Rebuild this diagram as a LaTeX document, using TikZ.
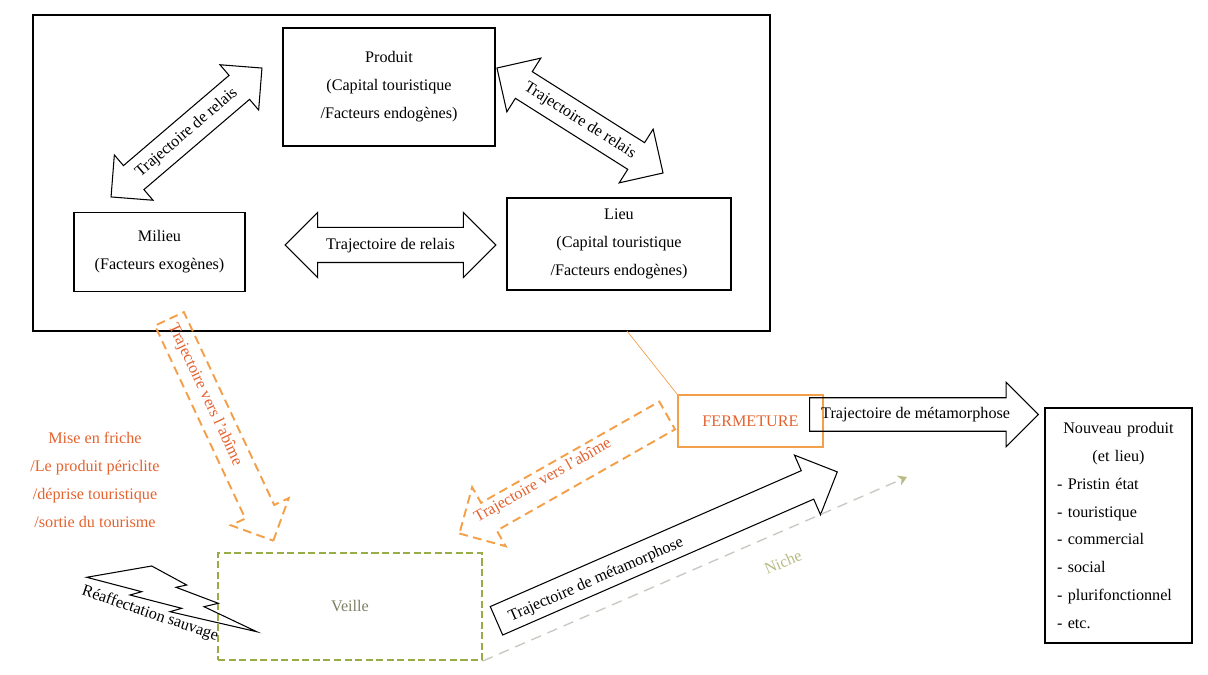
\documentclass[tikz,border=0pt]{standalone}
\usepackage{fontspec}
\setmainfont{Liberation Serif}
\usetikzlibrary{positioning}
\usetikzlibrary{shapes.arrows, arrows.meta}

\definecolor{orangeabime}{HTML}{F4A04A}
\definecolor{orangetexte}{HTML}{E4622E}
\definecolor{vertveille}{HTML}{98AC48}
\definecolor{grisveille}{HTML}{7E8166}
\definecolor{grisniche}{HTML}{CACAC4}
\definecolor{vertniche}{HTML}{B9BB84}

\begin{document}
\begin{tikzpicture}[
            x = 0.02cm, y = -0.02cm, % one pixel of the scan
            font = \fontsize{9.2pt}{15.9pt}\selectfont,
            box/.style = {draw, line width = 1.1pt, align = center},
            fleche/.style = {draw, line width = 0.6pt, text height = 0.24cm,
                text depth = 0.07cm, inner xsep = 2pt},
            relais/.style = {fleche, double arrow, inner ysep = 0.15cm},
            abime/.style = {fleche, single arrow, dashed, draw = orangeabime,
                line width = 1.1pt, dash pattern = on 5pt off 3pt, inner ysep = 0.145cm},
            meta/.style = {fleche, single arrow, inner ysep = 0.145cm}
        ]

        \useasboundingbox (0,0) rectangle (1208,675);

        % le cadre du haut
        \node[draw, line width = 1.4pt, minimum width = 14.74cm, minimum height = 6.32cm] (C) at (401.5,173) {};

        \node[box, minimum width = 4.24cm, minimum height = 2.36cm] (P) at (389,87) {Produit\\(Capital touristique\\/Facteurs endogènes)};
        \node[box, minimum width = 3.42cm, minimum height = 1.58cm] (M) at (159.5,252) {Milieu\\(Facteurs exogènes)};
        \node[box, minimum width = 4.48cm, minimum height = 1.84cm] (L) at (619,244) {Lieu\\(Capital touristique\\/Facteurs endogènes)};

        \node[relais, rotate = 40.5, minimum height = 3.97cm, minimum width = 1.16cm,
            double arrow head extend = 0.28cm] (MP) at (186.5,132.5) {Trajectoire de relais};
        \node[relais, rotate = -32.3, minimum height = 3.93cm, minimum width = 1.24cm,
            double arrow head extend = 0.32cm] (PL) at (580,120.5) {Trajectoire de relais};
        \node[relais, inner ysep = 0.185cm, minimum height = 4.22cm, minimum width = 1.28cm,
            double arrow head extend = 0.3cm] (ML) at (390.5,245) {Trajectoire de relais};

        % le bas
        \node[draw = vertveille, dashed, line width = 1.1pt, dash pattern = on 4pt off 2pt,
            minimum width = 5.28cm, minimum height = 2.14cm, text = grisveille] (V) at (350,606.5) {Veille};
        \node[draw = orangeabime, line width = 1.2pt, minimum width = 2.9cm, minimum height = 1.04cm,
            text = orangetexte] (F) at (750.5,421) {FERMETURE};
        \node[draw, line width = 1.3pt, text width = 2.46cm, inner xsep = 0.24cm,
            minimum height = 4.7cm] (NP) at (1118.5,525.5)
            {\centering Nouveau produit\\(et lieu)\par\raggedright - Pristin état\\- touristique\\- commercial\\- social\\- plurifonctionnel\\- etc.\par};
        \node[align = center, text = orangetexte] (MF) at (95,480) {Mise en friche\\/Le produit périclite\\/déprise touristique\\/sortie du tourisme};

        \node[abime, rotate = -64.9, anchor = tail, minimum height = 4.9cm, minimum width = 1.24cm,
            single arrow head extend = 0.32cm] (A1) at (169,318) {};
        \node[text = orangetexte, rotate = -64.9] (T1) at (205,395) {Trajectoire vers l'abîme};
        \node[abime, shape border rotate = 180, rotate = 29.6, anchor = tail, minimum height = 4.78cm,
            minimum width = 1.32cm, single arrow head extend = 0.36cm] (A2) at (668,415) {};
        \node[text = orangetexte, rotate = 29.6] (T2) at (543,481) {Trajectoire vers l'abîme};

        \node[meta, rotate = 23.6, anchor = tail, minimum height = 7.44cm, minimum width = 1.28cm,
            single arrow head extend = 0.34cm] (MV) at (496,621) {};
        \node[rotate = 23.6] (T3) at (596,580) {Trajectoire de métamorphose};
        \node[meta, anchor = tail, inner ysep = 0.17cm, minimum height = 4.58cm, minimum width = 1.28cm,
            single arrow head extend = 0.31cm] (MF2) at (809,414.5) {Trajectoire de métamorphose};

        \coordinate (c1) at (627,331);
        \coordinate (n1) at (907,477);
        \draw[orangeabime, line width = 0.4pt] (c1) -- (F.north west);
        \draw[grisniche, line width = 0.8pt, dash pattern = on 6pt off 4pt,
            -{Stealth[color = vertniche, length = 5pt, width = 6pt]}] (V.south east) -- (n1);
        \node[text = vertniche, rotate = 23] (NI) at (783,562) {Niche};

        % l'eclair
        \draw[line width = 0.6pt] (86.7,577.3) -- (151.7,566) -- (186.7,585) -- (176,587.3) -- (218.3,603.3)
            -- (204,606.7) -- (256.7,631.7) -- (170,611.7) -- (181.7,608.3) -- (130,595) -- (141.7,591.7) -- cycle;
        \node[rotate = -18.7] (RS) at (150,614) {Réaffectation sauvage};

\end{tikzpicture}
\end{document}
